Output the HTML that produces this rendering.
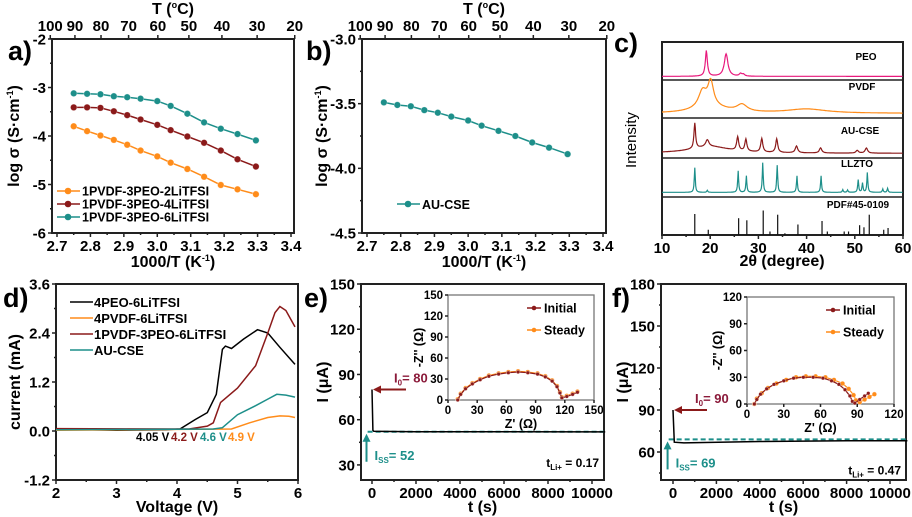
<!DOCTYPE html>
<html><head><meta charset="utf-8"><style>
html,body{margin:0;padding:0;background:#fff}
svg{display:block;font-family:"Liberation Sans",Arial,sans-serif;font-weight:bold}
</style></head><body>
<svg id="fig" width="912" height="517" viewBox="0 0 912 517"></svg>
<script>
// ---------- data ----------
const aX=[2.75,2.79,2.83,2.87,2.91,2.95,3.00,3.04,3.09,3.14,3.19,3.24,3.295];
const aOrange=[-3.8,-3.9,-3.99,-4.08,-4.18,-4.3,-4.42,-4.55,-4.68,-4.84,-5.01,-5.1,-5.2];
const aBrown=[-3.41,-3.41,-3.42,-3.49,-3.57,-3.66,-3.77,-3.88,-4.01,-4.14,-4.3,-4.48,-4.63];
const aTeal=[-3.12,-3.13,-3.14,-3.18,-3.2,-3.23,-3.28,-3.38,-3.54,-3.72,-3.85,-3.96,-4.09];
const bAU=[-3.49,-3.51,-3.52,-3.55,-3.57,-3.6,-3.63,-3.67,-3.71,-3.75,-3.8,-3.84,-3.89];
const topTempLabels=[100,90,80,70,60,50,40,30,20];
const aLegend=["1PVDF-3PEO-2LiTFSI","1PVDF-3PEO-4LiTFSI","1PVDF-3PEO-6LiTFSI"];
// XRD peaks [position, height, width]
const xrdPEO=[[19.2,0.8,0.25],[23.3,0.7,0.45],[26.3,0.08,0.3],[26.9,0.06,0.3]];
const xrdPVDF=[[18.4,0.5,1.0],[20.1,0.75,0.7],[26.6,0.22,1.3],[40,0.13,5],[20,0.2,4]];
const xrdAU=[[16.8,0.75,0.2],[19.4,0.2,0.4],[25.7,0.4,0.25],[27.4,0.35,0.25],[30.7,0.4,0.25],[33.8,0.4,0.25],[37.9,0.2,0.3],[42.9,0.15,0.3],[50.5,0.08,0.3],[52.4,0.15,0.3],[20,0.2,5]];
const xrdLLZ=[[16.8,0.75,0.12],[19.4,0.06,0.12],[25.8,0.65,0.12],[27.5,0.5,0.12],[30.9,0.9,0.12],[33.9,0.82,0.12],[38,0.5,0.12],[43,0.5,0.12],[47.5,0.08,0.12],[48.5,0.07,0.12],[50.7,0.38,0.12],[51.6,0.28,0.12],[52.6,0.6,0.12],[55.8,0.1,0.12],[56.8,0.12,0.12]];
const pdfPos=[16.8,19.6,25.9,27.6,31,32.4,34,35.5,38.2,43.2,44.3,47.8,48.7,51,51.9,53,56,56.9];
const pdfInt=[0.6,0.15,0.48,0.42,0.7,0.1,0.58,0.05,0.3,0.4,0.1,0.1,0.1,0.28,0.22,0.58,0.15,0.2];
const xrdNames=["PEO","PVDF","AU-CSE","LLZTO","PDF#45-0109"];
// LSV
const dBlackV=[2,3,3.8,4.05,4.3,4.5,4.65,4.75,4.8,4.9,5.1,5.33,5.5,5.7,5.95];
const dBlackI=[0.05,0.02,0.03,0.05,0.28,0.45,0.9,2.0,2.08,2.02,2.25,2.48,2.4,2.05,1.63];
const dBrownV=[2,4.2,4.5,4.6,4.72,5,5.3,5.5,5.62,5.7,5.8,5.95];
const dBrownI=[0.06,0.05,0.12,0.2,0.7,1.05,1.6,2.4,2.9,3.05,2.95,2.55];
const dTealV=[2,4.6,4.75,5,5.3,5.5,5.65,5.8,5.95];
const dTealI=[0.03,0.05,0.08,0.4,0.62,0.78,0.9,0.88,0.83];
const dOrangeV=[2,4.9,5.2,5.5,5.7,5.85,5.95];
const dOrangeI=[0.02,0.05,0.2,0.33,0.37,0.36,0.33];
const dLegend=["4PEO-6LiTFSI","4PVDF-6LiTFSI","1PVDF-3PEO-6LiTFSI","AU-CSE"];
// chronoamperometry
const eT=[0,40,80,2000,6000,10600];
const eI=[80,53,52.3,52,52,51.9];
const fT=[0,60,500,4000,8000,10800];
const fI=[90,67,66.5,67.5,68,68];
// EIS
const eZr=[10,13,18,25,33,42,52,62,72,82,92,100,107,112,115,117,122,128,133];
const eZiI=[0,8,16,23,29,34,37,39,40,39,37,33,27,19,10,3,5,8,11];
const eZiS=[1,9,17,24,30,35,38,40,41,40,38,34,28,20,11,4,6,9,12];
const fZrI=[6,8,11,16,22,30,38,46,54,62,69,75,80,84,86,88,92,96,99];
const fZiI=[0,5,11,17,22,26,29,30,30,29,26,22,16,9,3,1,5,9,12];
const fZrS=[6,8,12,17,24,32,40,48,56,64,71,78,83,87,89,92,96,100,104];
const fZiS=[0,6,12,18,23,27,30,31,31,30,27,23,17,10,4,2,5,8,11];

// ---------- helpers ----------
const NS="http://www.w3.org/2000/svg";
const svg=document.getElementById('fig');
function el(tag,attrs,name,parent){
  const e=document.createElementNS(NS,tag);
  for(const k in attrs)e.setAttribute(k,attrs[k]);
  
  
  (parent||svg).appendChild(e);return e;
}
function txt(x,y,s,size,name,opt){
  opt=opt||{};
  const t=el('text',{x:x,y:y,'font-size':size,'text-anchor':opt.anchor||'middle',fill:opt.fill||'#000','font-weight':opt.weight||'bold'},name);
  if(opt.rot)t.setAttribute('transform','rotate(-90 '+x+' '+y+')');
  t.innerHTML=s;return t;
}
function lin(d0,d1,r0,r1){return v=>r0+(v-d0)*(r1-r0)/(d1-d0);}
function frame(x0,y0,x1,y1,name,w,col){
  el('rect',{x:x0,y:y0,width:x1-x0,height:y1-y0,fill:'none',stroke:col||'#222','stroke-width':w||2},name);
}
function poly(xs,ys,sx,sy,col,name,w){
  const pts=xs.map((v,i)=>sx(v).toFixed(1)+','+sy(ys[i]).toFixed(1)).join(' ');
  el('polyline',{points:pts,fill:'none',stroke:col,'stroke-width':w||1.5},name);
}
function dots(xs,ys,sx,sy,col,name,r){
  xs.forEach((v,i)=>{el('circle',{cx:sx(v),cy:sy(ys[i]),r:r||3.3,fill:col,stroke:'#fff','stroke-opacity':0.5,'stroke-width':0.6},name);});
}
function xticks(vals,sx,y,dir,len,lab,size,name,labdy){
  vals.forEach(v=>{
    el('line',{x1:sx(v),x2:sx(v),y1:y,y2:y+dir*len,stroke:'#222','stroke-width':1.5},name+'-tick');
    if(lab)txt(sx(v),y+labdy,lab(v),size,name+'-label');
  });
}
function yticks(vals,sy,x,len,lab,size,name){
  vals.forEach(v=>{
    el('line',{x1:x,x2:x-len,y1:sy(v),y2:sy(v),stroke:'#222','stroke-width':1.5},name+'-tick');
    if(lab)txt(x-len-2,sy(v)+size*0.36,lab(v),size,name+'-label',{anchor:'end'});
  });
}
const OR='#ff8c1a',BR='#8b1a1a',TE='#1d8f8a',PK='#e8197c';

// ---------- panel a & b ----------
function arrPanel(x0,x1,yd0,yd1,letter,lx,pfx){
  const sx=lin(2.7,3.4,x0+5,x1-3), sy=lin(yd0,yd1,39,233);
  frame(x0,39,x1,233,pfx+'-frame');
  xticks([2.7,2.8,2.9,3.0,3.1,3.2,3.3,3.4],sx,233,1,4,v=>v.toFixed(1),15,pfx+'-x-axis',18);
  xticks([2.75,2.85,2.95,3.05,3.15,3.25,3.35],sx,233,1,2,null,15,pfx+'-x-minor');
  topTempLabels.forEach(T=>{const v=1000/(T+273.15);const X=sx(v);
    el('line',{x1:X,x2:X,y1:39,y2:35,stroke:'#222','stroke-width':1.5},pfx+'-top-tick');
    txt(X,31,String(T),15,pfx+'-top-label');});
  txt((x0+x1)/2,14,'T (<tspan font-size="9" dy="-6">o</tspan><tspan dy="6">C)</tspan>',16,pfx+'-top-axis-title');
  txt((x0+x1)/2,267,'1000/T (K<tspan font-size="9" dy="-6">-1</tspan><tspan dy="6">)</tspan>',16,pfx+'-x-axis-title');
  txt(lx,60,letter,27,pfx+'-panel-label',{anchor:'start'});
  return [sx,sy];
}
let [sxa,sya]=arrPanel(52,294,-2,-6,'a)',8,'a');
yticks([-2,-3,-4,-5,-6],sya,52,4,v=>String(v),15,'a-y-axis');
yticks([-2.5,-3.5,-4.5,-5.5],sya,52,2,null,15,'a-y-minor');
txt(19,136,'log σ (S·cm<tspan font-size="9" dy="-6">-1</tspan><tspan dy="6">)</tspan>',16,'a-y-axis-title',{rot:1});
poly(aX,aOrange,sxa,sya,OR,'a-series-2litfsi');dots(aX,aOrange,sxa,sya,OR,'a-point-2litfsi');
poly(aX,aBrown,sxa,sya,BR,'a-series-4litfsi');dots(aX,aBrown,sxa,sya,BR,'a-point-4litfsi');
poly(aX,aTeal,sxa,sya,TE,'a-series-6litfsi');dots(aX,aTeal,sxa,sya,TE,'a-point-6litfsi');
[OR,BR,TE].forEach((c,i)=>{const y=191+i*13;
  el('line',{x1:57,x2:80,y1:y,y2:y,stroke:c,'stroke-width':1.5},'a-legend-line');
  el('circle',{cx:68,cy:y,r:3.3,fill:c},'a-legend-marker');
  txt(82,y+4.5,aLegend[i],12.5,'a-legend-entry',{anchor:'start'});});

let [sxb,syb]=arrPanel(362,606,-3,-4.5,'b)',306,'b');
yticks([-3,-3.5,-4,-4.5],syb,362,4,v=>v.toFixed(1),15,'b-y-axis');
yticks([-3.25,-3.75,-4.25],syb,362,2,null,15,'b-y-minor');
txt(327,136,'log σ (S·cm<tspan font-size="9" dy="-6">-1</tspan><tspan dy="6">)</tspan>',16,'b-y-axis-title',{rot:1});
poly(aX,bAU,sxb,syb,TE,'b-series-au-cse');dots(aX,bAU,sxb,syb,TE,'b-point-au-cse');
el('line',{x1:397,x2:420,y1:204,y2:204,stroke:TE,'stroke-width':1.5},'b-legend-line');
el('circle',{cx:408,cy:204,r:3.3,fill:TE},'b-legend-marker');
txt(422,209,'AU-CSE',12.5,'b-legend-entry',{anchor:'start'});

// ---------- panel c ----------
const sxc=lin(10,60,662,903);
frame(662,42,903,235,'c-frame');
const bands=[[42,80],[80,118],[118,158],[158,197],[197,235]];
bands.slice(1).forEach(b=>el('line',{x1:662,x2:903,y1:b[0],y2:b[0],stroke:'#222','stroke-width':1.5},'c-divider'));
function pattern(peaks,band,col,name,base){
  const xs=[],ys=[];
  for(let t=10;t<=60;t+=0.1){let v=base;peaks.forEach(p=>{v+=p[1]/(1+Math.pow((t-p[0])/p[2],2));});xs.push(t);ys.push(v);}
  const sy=lin(0,1,band[1]-3,band[0]+3);
  poly(xs,ys,sxc,sy,col,name,1.2);
}
pattern(xrdPEO,bands[0],PK,'c-trace-peo',0.02);
pattern(xrdPVDF,bands[1],OR,'c-trace-pvdf',0.05);
pattern(xrdAU,bands[2],BR,'c-trace-au-cse',0.05);
pattern(xrdLLZ,bands[3],TE,'c-trace-llzto',0.05);
const syp=lin(0,1,235,200);
pdfPos.forEach((p,i)=>el('line',{x1:sxc(p),x2:sxc(p),y1:235,y2:syp(pdfInt[i]),stroke:'#111','stroke-width':1.2},'c-pdf-stick'));
const nameX=[866,862,860,857,858];
const nameY=[60,90,134,167,208];
xrdNames.forEach((n,i)=>txt(nameX[i],nameY[i],n,10,'c-label-'+i));
xticks([10,20,30,40,50,60],sxc,235,1,4,v=>String(v),15,'c-x-axis',18);
xticks([15,25,35,45,55],sxc,235,1,2,null,15,'c-x-minor');
txt(782,266,'2θ (degree)',16,'c-x-axis-title');
txt(636,140,'Intensity',15,'c-y-axis-title',{rot:1,weight:'normal'});
txt(614,52,'c)',27,'c-panel-label',{anchor:'start'});

// ---------- panel d ----------
const sxd=lin(2,6,56,298), syd=lin(3.6,-1.2,284,480);
frame(56,284,298,480,'d-frame');
xticks([2,3,4,5,6],sxd,480,1,4,v=>String(v),15,'d-x-axis',18);
xticks([2.5,3.5,4.5,5.5],sxd,480,1,2,null,15,'d-x-minor');
yticks([3.6,2.4,1.2,0,-1.2],syd,56,4,v=>v.toFixed(1),15,'d-y-axis');
yticks([3.0,1.8,0.6,-0.6],syd,56,2,null,15,'d-y-minor');
poly(dBlackV,dBlackI,sxd,syd,'#000','d-series-4peo');
poly(dOrangeV,dOrangeI,sxd,syd,OR,'d-series-4pvdf');
poly(dBrownV,dBrownI,sxd,syd,BR,'d-series-1pvdf-3peo');
poly(dTealV,dTealI,sxd,syd,TE,'d-series-au-cse');
['#000',OR,BR,TE].forEach((c,i)=>{const y=302+i*16;
  el('line',{x1:70,x2:93,y1:y,y2:y,stroke:c,'stroke-width':1.5},'d-legend-line');
  txt(94,y+5,dLegend[i],13,'d-legend-entry',{anchor:'start'});});
txt(136,441,'4.05 V',11.5,'d-onset-4peo',{anchor:'start'});
txt(171,441,'4.2 V',11.5,'d-onset-1pvdf',{anchor:'start',fill:BR});
txt(200,441,'4.6 V',11.5,'d-onset-au-cse',{anchor:'start',fill:TE});
txt(228,441,'4.9 V',11.5,'d-onset-4pvdf',{anchor:'start',fill:OR});
txt(177,512,'Voltage (V)',16,'d-x-axis-title');
txt(20,382,'current (mA)',16,'d-y-axis-title',{rot:1});
txt(3,307,'d)',27,'d-panel-label',{anchor:'start'});

// ---------- panels e & f ----------
function caPanel(x0,x1,x0v,x10k,ymax,ylo,yTicks,yMinor,T,I,Iss,I0,tli,letter,lx,pfx){
  const sx=lin(0,10000,x0v,x10k), sy=lin(ymax,ylo,284,480);
  frame(x0,284,x1,480,pfx+'-frame');
  xticks([0,2000,4000,6000,8000,10000],sx,480,1,4,v=>String(v),15,pfx+'-x-axis',18);
  xticks([1000,3000,5000,7000,9000],sx,480,1,2,null,15,pfx+'-x-minor');
  yticks(yTicks,sy,x0,4,v=>String(v),15,pfx+'-y-axis');
  yticks(yMinor,sy,x0,2,null,15,pfx+'-y-minor');
  el('line',{x1:sx(-200),x2:x1,y1:sy(Iss),y2:sy(Iss),stroke:TE,'stroke-width':2,'stroke-dasharray':'5,3'},pfx+'-iss-dashed-line');
  poly(T,I,sx,sy,'#000',pfx+'-current-trace');
  el('line',{x1:sx(0)+6,x2:sx(0)+34,y1:sy(I0),y2:sy(I0),stroke:BR,'stroke-width':2},pfx+'-i0-arrow');
  el('polygon',{points:(sx(0)+1)+','+sy(I0)+' '+(sx(0)+9)+','+(sy(I0)-4)+' '+(sx(0)+9)+','+(sy(I0)+4),fill:BR},pfx+'-i0-arrowhead');
  txt(sx(0)+22,sy(I0)-7,'I<tspan font-size="8" dy="3">0</tspan><tspan dy="-3">= '+I0+'</tspan>',13,pfx+'-i0-label',{anchor:'start',fill:'#8b1a3a'});
  const ya=sy(Iss)+2;
  el('line',{x1:sx(-250),x2:sx(-250),y1:ya+28,y2:ya+6,stroke:TE,'stroke-width':2},pfx+'-iss-arrow');
  el('polygon',{points:sx(-250)+','+ya+' '+(sx(-250)-4)+','+(ya+8)+' '+(sx(-250)+4)+','+(ya+8),fill:TE},pfx+'-iss-arrowhead');
  txt(sx(-250)+8,ya+26,'I<tspan font-size="8" dy="3">SS</tspan><tspan dy="-3">= '+Iss+'</tspan>',13,pfx+'-iss-label',{anchor:'start',fill:TE});
  txt(x1-5,ya+33,'t<tspan font-size="8" dy="3">Li+</tspan><tspan dy="-3"> = '+tli+'</tspan>',12,pfx+'-transference-label',{anchor:'end'});
  txt((x0+x1)/2,512,'t (s)',16,pfx+'-x-axis-title');
  txt(x0-33,382,'I (μA)',16,pfx+'-y-axis-title',{rot:1});
  txt(lx,307,letter,27,pfx+'-panel-label',{anchor:'start'});
}
caPanel(361,604,372,592,150,20,[150,120,90,60,30],[135,105,75,45],eT,eI,52,80,'0.17','e)',304,'e');
caPanel(661,906,673,890,180,40,[180,150,120,90,60],[165,135,105,75,45],fT,fI,69,90,'0.47','f)',612,'f');

function inset(x0,x1,y0,y1,max,step,Zr1,Zi1,Zr2,Zi2,legX,legY,pfx){
  el('rect',{x:x0,y:y0,width:x1-x0,height:y1-y0,fill:'#fff',stroke:'#777','stroke-width':1.3},pfx+'-inset-frame');
  const sx=lin(0,max,x0,x1), sy=lin(0,max,y1,y0);
  const vals=[];for(let v=0;v<=max;v+=step)vals.push(v);
  xticks(vals,sx,y1,1,3,v=>String(v),11.5,pfx+'-inset-x-axis',14);
  yticks(vals,sy,x0,3,v=>String(v),11.5,pfx+'-inset-y-axis');
  poly(Zr2,Zi2,sx,sy,OR,pfx+'-inset-steady',1.2);dots(Zr2,Zi2,sx,sy,OR,pfx+'-inset-steady-point',2.3);
  poly(Zr1,Zi1,sx,sy,BR,pfx+'-inset-initial',1.2);dots(Zr1,Zi1,sx,sy,BR,pfx+'-inset-initial-point',1.8);
  txt((x0+x1)/2,y1+28,'Z\' (Ω)',12.5,pfx+'-inset-x-title');
  txt(x0-25,(y0+y1)/2,'-Z\'\' (Ω)',12.5,pfx+'-inset-y-title',{rot:1});
  [[BR,'Initial'],[OR,'Steady']].forEach((e,i)=>{const y=legY+i*22;
    el('line',{x1:legX,x2:legX+14,y1:y,y2:y,stroke:e[0],'stroke-width':1.5},pfx+'-inset-legend-line');
    el('circle',{cx:legX+7,cy:y,r:2.3,fill:e[0]},pfx+'-inset-legend-marker');
    txt(legX+17,y+4.5,e[1],12.5,pfx+'-inset-legend-entry',{anchor:'start'});});
}
inset(448,594,295,400,150,30,eZr,eZiI,eZr,eZiS,527,308,'e');
inset(747,894,297,404,120,30,fZrI,fZiI,fZrS,fZiS,826,310,'f');
</script>
</body></html>
